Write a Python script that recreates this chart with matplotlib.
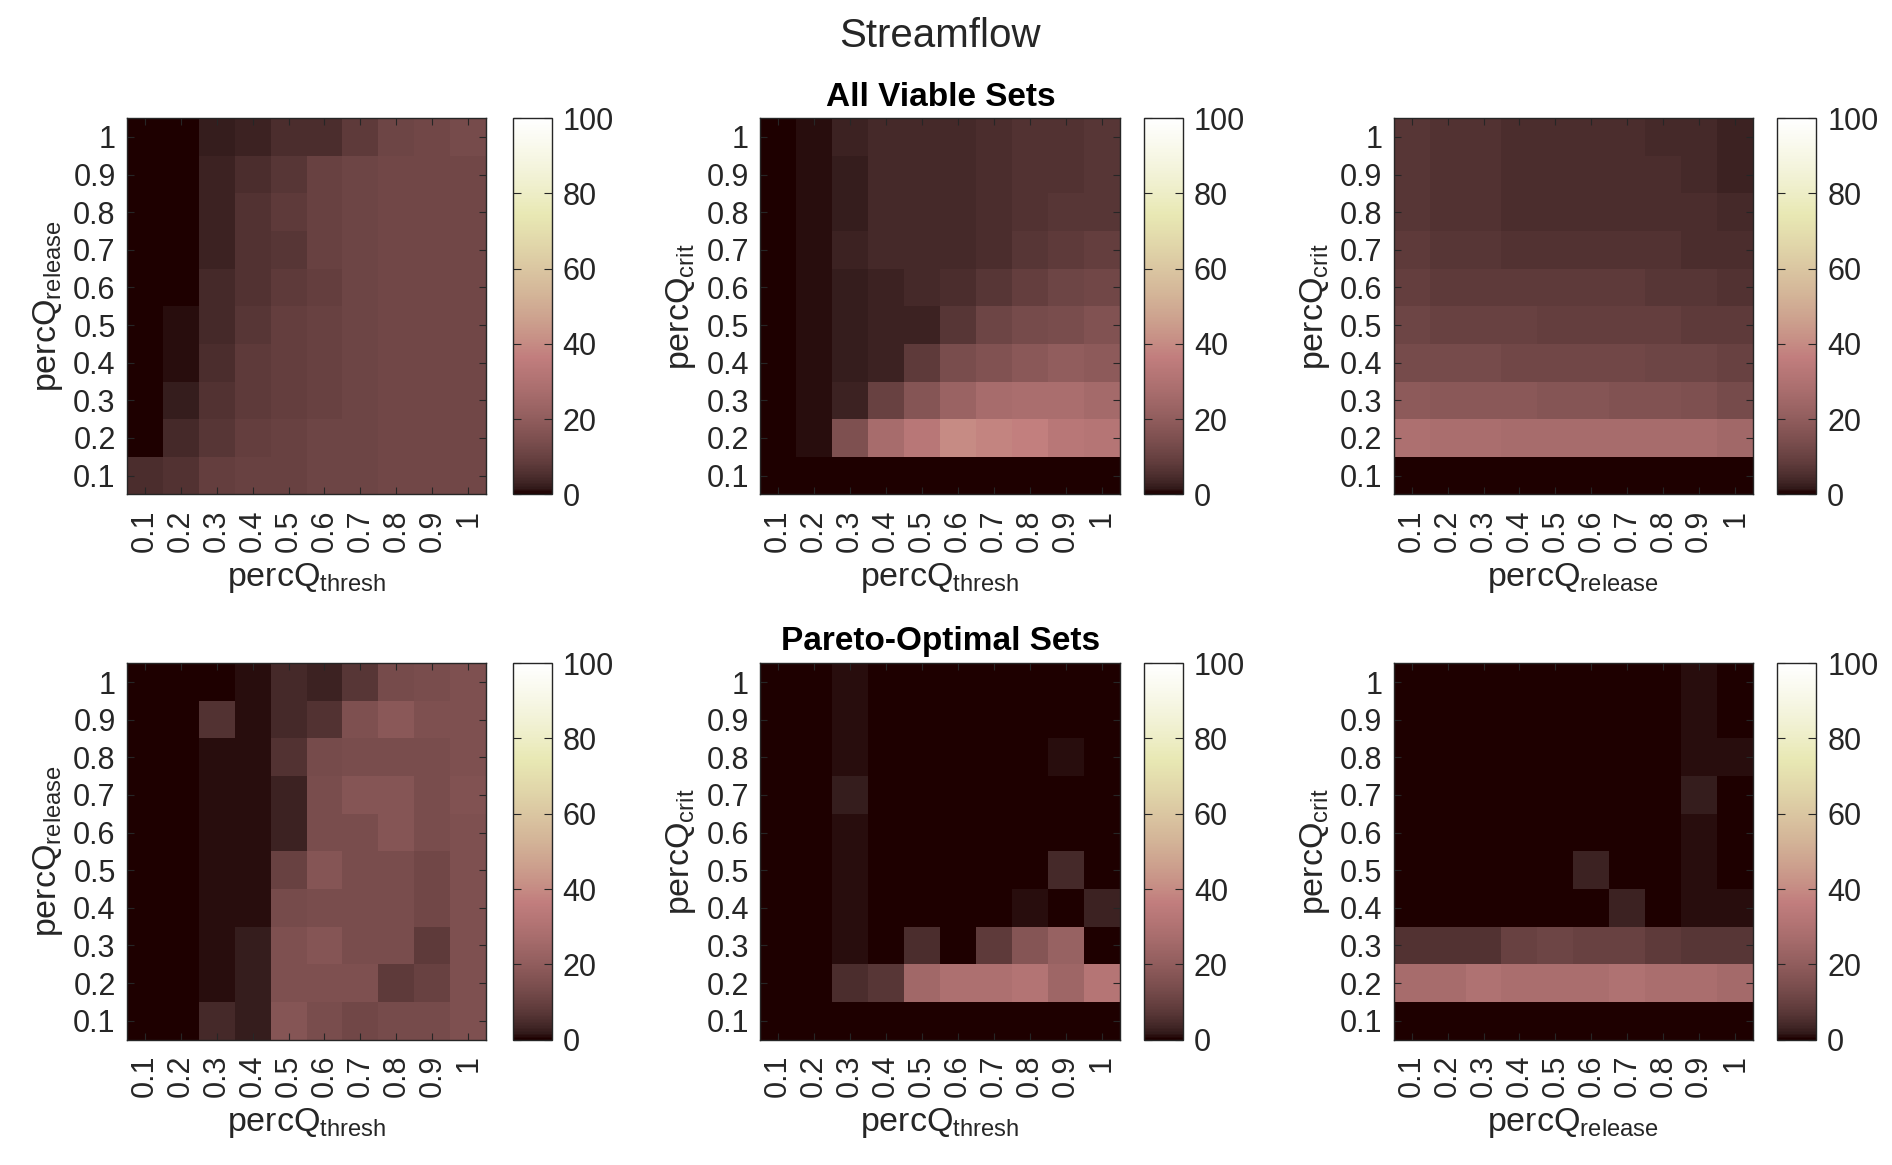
import numpy as np
import matplotlib
matplotlib.use("Agg")
import matplotlib.pyplot as plt

plt.rcParams.update({
    "font.family": ["Liberation Sans", "DejaVu Sans"],
    "xtick.direction": "in",
    "ytick.direction": "in",
    "axes.linewidth": 1.0,
})

# --------------- DATA -------------------------------------------------------
levels = [0.1, 0.2, 0.3, 0.4, 0.5, 0.6, 0.7, 0.8, 0.9, 1.0]
level_labels = ["0.1", "0.2", "0.3", "0.4", "0.5", "0.6", "0.7", "0.8", "0.9", "1"]

# rows: y level 0.1 -> 1 ; columns: x level 0.1 -> 1  (percent of sets)
all_thresh_release = [
    [5, 6, 9, 10, 10, 11, 11, 12, 12, 12],
    [0, 4, 7, 9, 10, 11, 11, 12, 12, 12],
    [0, 2, 6, 8, 9, 10, 11, 12, 12, 12],
    [0, 1, 5, 8, 9, 10, 11, 12, 12, 12],
    [0, 1, 4, 7, 9, 10, 11, 12, 12, 12],
    [0, 0, 4, 6, 8, 9, 11, 12, 12, 12],
    [0, 0, 3, 6, 7, 10, 11, 12, 12, 12],
    [0, 0, 3, 6, 8, 10, 11, 12, 12, 12],
    [0, 0, 3, 5, 7, 10, 11, 12, 12, 12],
    [0, 0, 2, 3, 5, 5, 8, 11, 12, 13],
]

all_thresh_crit = [
    [0, 0, 0, 0, 0, 0, 0, 0, 0, 0],
    [0, 1, 15, 27, 33, 40, 38, 37, 33, 32],
    [0, 1, 3, 10, 17, 23, 27, 28, 28, 26],
    [0, 1, 2, 3, 8, 14, 16, 18, 20, 19],
    [0, 1, 2, 3, 3, 7, 11, 13, 14, 16],
    [0, 1, 2, 3, 4, 5, 7, 9, 11, 12],
    [0, 1, 3, 4, 4, 4, 5, 7, 8, 9],
    [0, 1, 2, 4, 4, 4, 5, 6, 7, 7],
    [0, 1, 2, 4, 4, 4, 5, 6, 6, 7],
    [0, 1, 3, 4, 4, 4, 5, 6, 6, 7],
]

all_release_crit = [
    [0, 0, 0, 0, 0, 0, 0, 0, 0, 0],
    [29, 28, 28, 27, 27, 27, 27, 27, 27, 25],
    [19, 18, 18, 18, 17, 17, 16, 16, 15, 13],
    [13, 13, 13, 12, 12, 12, 12, 11, 11, 10],
    [11, 10, 10, 10, 9, 9, 9, 9, 8, 8],
    [9, 8, 8, 8, 8, 8, 8, 7, 7, 6],
    [8, 7, 7, 6, 6, 6, 6, 6, 5, 5],
    [7, 6, 6, 5, 5, 5, 5, 5, 5, 4],
    [7, 6, 6, 5, 5, 5, 5, 5, 4, 3],
    [7, 6, 6, 5, 5, 5, 5, 4, 4, 3],
]

pareto_thresh_release = [
    [0, 0, 4, 2, 17, 14, 12, 13, 13, 15],
    [0, 0, 1, 2, 15, 15, 15, 8, 10, 15],
    [0, 0, 1, 2, 15, 17, 14, 14, 8, 15],
    [0, 0, 1, 1, 13, 14, 14, 14, 12, 15],
    [0, 0, 1, 1, 10, 17, 14, 14, 12, 15],
    [0, 0, 1, 1, 3, 14, 14, 17, 14, 15],
    [0, 0, 1, 1, 3, 14, 17, 17, 14, 16],
    [0, 0, 1, 1, 6, 13, 14, 14, 14, 15],
    [0, 0, 6, 1, 4, 6, 15, 18, 15, 15],
    [0, 0, 0, 1, 4, 3, 7, 13, 14, 15],
]

pareto_thresh_crit = [
    [0, 0, 0, 0, 0, 0, 0, 0, 0, 0],
    [0, 0, 5, 7, 25, 29, 29, 31, 24, 32],
    [0, 0, 1, 0, 5, 0, 8, 17, 22, 0],
    [0, 0, 1, 0, 0, 0, 0, 1, 0, 3],
    [0, 0, 1, 0, 0, 0, 0, 0, 4, 0],
    [0, 0, 1, 0, 0, 0, 0, 0, 0, 0],
    [0, 0, 2, 0, 0, 0, 0, 0, 0, 0],
    [0, 0, 1, 0, 0, 0, 0, 0, 1, 0],
    [0, 0, 1, 0, 0, 0, 0, 0, 0, 0],
    [0, 0, 1, 0, 0, 0, 0, 0, 0, 0],
]

pareto_release_crit = [
    [0, 0, 0, 0, 0, 0, 0, 0, 0, 0],
    [27, 27, 30, 28, 28, 28, 30, 28, 28, 26],
    [6, 6, 6, 10, 11, 10, 10, 8, 7, 7],
    [0, 0, 0, 0, 0, 0, 3, 0, 1, 1],
    [0, 0, 0, 0, 0, 3, 0, 0, 1, 0],
    [0, 0, 0, 0, 0, 0, 0, 0, 1, 0],
    [0, 0, 0, 0, 0, 0, 0, 0, 2, 0],
    [0, 0, 0, 0, 0, 0, 0, 0, 1, 1],
    [0, 0, 0, 0, 0, 0, 0, 0, 1, 0],
    [0, 0, 0, 0, 0, 0, 0, 0, 1, 0],
]

lab_thresh = r"percQ$_{\mathregular{thresh}}$"
lab_release = r"percQ$_{\mathregular{release}}$"
lab_crit = r"percQ$_{\mathregular{crit}}$"

panels = [
    (all_thresh_release, lab_thresh, lab_release),
    (all_thresh_crit, lab_thresh, lab_crit),
    (all_release_crit, lab_release, lab_crit),
    (pareto_thresh_release, lab_thresh, lab_release),
    (pareto_thresh_crit, lab_thresh, lab_crit),
    (pareto_release_crit, lab_release, lab_crit),
]

# --------------- LAYOUT -----------------------------------------------------
ax_lefts = [0.0670, 0.4018, 0.7366]
cb_lefts = [0.2710, 0.6046, 0.9394]
ax_w = 0.190
cb_w = 0.0205
row_bottoms = [0.5756, 0.1077]
row_h = 0.323
ink = "#262626"

fig = plt.figure(figsize=(18.92, 11.65), dpi=100)
fig.text(0.497, 0.969, "Streamflow", ha="center", va="center", fontsize=29,
         color=ink)
fig.text(0.497, 0.916, "All Viable Sets", ha="center", va="center",
         fontsize=24, weight="bold")
fig.text(0.497, 0.449, "Pareto-Optimal Sets", ha="center", va="center",
         fontsize=24, weight="bold")

edges = np.arange(0.05, 1.1, 0.1)

for i, (grid, xlab, ylab) in enumerate(panels):
    r, c = divmod(i, 3)
    ax = fig.add_axes([ax_lefts[c], row_bottoms[r], ax_w, row_h])
    cax = fig.add_axes([cb_lefts[c], row_bottoms[r], cb_w, row_h])

    mesh = ax.pcolormesh(edges, edges, np.array(grid, dtype=float),
                         cmap="pink", vmin=0, vmax=100, shading="flat")
    ax.set_xlim(0.05, 1.05)
    ax.set_ylim(0.05, 1.05)
    ax.set_xticks(levels)
    ax.set_xticklabels(level_labels, rotation=90)
    ax.set_yticks(levels)
    ax.set_yticklabels(level_labels)
    ax.tick_params(labelsize=22, length=5, width=0.8, top=True, right=True,
                   color=ink, labelcolor=ink)
    ax.tick_params(axis="x", pad=11)
    ax.tick_params(axis="y", pad=8)
    ax.set_xlabel(xlab, fontsize=24.5, color=ink, labelpad=6)
    ax.set_ylabel(ylab, fontsize=24.5, color=ink, labelpad=6)
    for sp in ax.spines.values():
        sp.set_color(ink)

    cb = fig.colorbar(mesh, cax=cax, ticks=[0, 20, 40, 60, 80, 100])
    cb.ax.tick_params(labelsize=22, length=6, width=0.8, direction="in",
                      left=True, pad=8, color=ink, labelcolor=ink)
    cb.outline.set_edgecolor(ink)

fig.savefig("out.png", dpi=100, facecolor="white")
